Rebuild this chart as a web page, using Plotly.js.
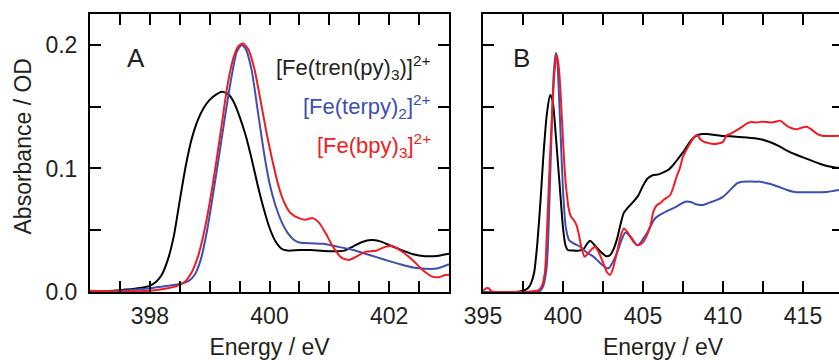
<!DOCTYPE html>
<html>
<head>
<meta charset="utf-8">
<script src="https://cdn.plot.ly/plotly-3.0.1.min.js"></script>
<style>html,body{margin:0;padding:0;overflow:hidden;background:#fff}</style>
</head>
<body>
<div id="chart" style="width:845px;height:360px"></div>
<script>
// ---------- Panel A (zoomed pre-edge) ----------
const aTrenE = [397.0,397.5,397.8,398.0,398.1,398.2,398.3,398.4,398.5,398.6,398.7,398.8,398.9,399.0,399.1,399.2,399.3,399.4,399.5,399.6,399.7,399.8,399.9,400.0,400.1,400.2,400.3,400.5,400.7,400.9,401.1,401.25,401.4,401.55,401.7,401.85,402.0,402.2,402.4,402.6,402.8,403.0];
const aTrenA = [0.0,0.0015,0.003,0.005,0.008,0.014,0.026,0.045,0.074,0.102,0.124,0.139,0.149,0.1555,0.1595,0.162,0.1605,0.154,0.142,0.127,0.108,0.087,0.068,0.052,0.041,0.035,0.0335,0.034,0.034,0.0332,0.033,0.0335,0.037,0.0405,0.042,0.041,0.038,0.034,0.0305,0.029,0.0292,0.031];

const aTerpyE = [397.0,397.5,398.0,398.3,398.5,398.65,398.75,398.85,398.95,399.05,399.15,399.25,399.35,399.45,399.53,399.6,399.7,399.8,399.9,400.0,400.1,400.2,400.3,400.4,400.5,400.7,400.9,401.1,401.4,401.6,401.8,402.0,402.2,402.4,402.6,402.8,403.0];
const aTerpyA = [0.0,0.001,0.003,0.005,0.0065,0.009,0.014,0.026,0.048,0.077,0.108,0.14,0.17,0.194,0.2,0.197,0.18,0.148,0.115,0.088,0.07,0.057,0.048,0.0425,0.040,0.0394,0.039,0.037,0.034,0.031,0.028,0.025,0.0222,0.0198,0.0188,0.019,0.0225];

const aBpyE = [397.0,397.5,398.0,398.3,398.5,398.6,398.7,398.8,398.9,399.0,399.1,399.2,399.3,399.4,399.48,399.56,399.65,399.75,399.85,399.95,400.05,400.15,400.25,400.35,400.5,400.6,400.72,400.83,400.94,401.06,401.2,401.33,401.45,401.6,401.78,401.94,402.06,402.22,402.39,402.56,402.72,402.83,402.94,403.0];
const aBpyA = [0.001,0.0005,0.001,0.003,0.0057,0.009,0.016,0.028,0.047,0.072,0.102,0.135,0.168,0.19,0.199,0.2012,0.196,0.18,0.155,0.129,0.106,0.086,0.072,0.064,0.0596,0.0585,0.0598,0.056,0.0475,0.0367,0.0278,0.0259,0.0286,0.0325,0.0334,0.0367,0.037,0.0326,0.0259,0.0178,0.0124,0.012,0.0138,0.014];

// ---------- Panel B (full spectrum) ----------
const bTrenE = [395.0,396.0,397.0,397.5,397.8,398.0,398.2,398.4,398.6,398.8,399.0,399.2,399.35,399.5,399.65,399.8,400.0,400.15,400.3,400.6,401.0,401.3,401.5,401.7,401.9,402.1,402.4,402.7,402.95,403.2,403.4,403.6,403.8,404.1,404.4,404.7,405.0,405.3,405.6,405.97,406.3,406.6,406.9,407.2,407.5,407.8,408.1,408.4,408.7,409.0,409.5,410.0,410.5,411.0,411.5,412.0,412.5,413.0,413.5,414.0,414.5,415.0,415.5,416.0,416.5,417.0,417.5];
const bTrenA = [0.0,0.0,0.0,0.001,0.003,0.007,0.016,0.04,0.075,0.115,0.145,0.1594,0.155,0.135,0.11,0.085,0.052,0.038,0.034,0.0335,0.0335,0.035,0.039,0.0415,0.039,0.036,0.032,0.029,0.030,0.036,0.044,0.055,0.064,0.069,0.0731,0.078,0.086,0.092,0.0945,0.0952,0.097,0.099,0.103,0.108,0.113,0.119,0.124,0.127,0.1278,0.1278,0.127,0.1262,0.126,0.1255,0.125,0.1245,0.1232,0.121,0.118,0.1145,0.1115,0.109,0.1065,0.104,0.102,0.1008,0.1002];

const bTerpyE = [395.0,396.0,397.5,398.0,398.54,398.75,398.96,399.05,399.13,399.27,399.42,399.55,399.62,399.69,399.84,400.0,400.17,400.38,400.6,400.8,401.07,401.3,401.6,401.9,402.2,402.5,402.75,402.9,403.1,403.36,403.6,403.88,404.0,404.3,404.6,404.75,405.0,405.24,405.5,405.75,406.0,406.5,407.0,407.4,407.64,408.0,408.3,408.7,409.0,409.3,409.62,410.0,410.25,410.6,410.87,411.2,411.5,412.0,412.33,412.75,413.16,413.6,414.0,414.4,414.83,415.25,415.66,416.1,416.5,416.9,417.27,417.5];
const bTerpyA = [0.0,0.0,0.0,0.0,0.0005,0.0043,0.0178,0.035,0.0637,0.123,0.177,0.1935,0.19,0.177,0.131,0.0826,0.0529,0.042,0.0398,0.0385,0.0367,0.034,0.031,0.0286,0.025,0.0215,0.0192,0.0197,0.024,0.031,0.040,0.048,0.0475,0.0435,0.038,0.0385,0.043,0.0475,0.054,0.0595,0.062,0.0655,0.0685,0.0715,0.0731,0.0728,0.071,0.0704,0.0715,0.073,0.0745,0.077,0.080,0.0845,0.088,0.0893,0.0895,0.0893,0.0893,0.088,0.0866,0.0845,0.0826,0.0812,0.0807,0.0808,0.0807,0.0808,0.081,0.0818,0.0826,0.0828];

const bBpyE = [395.0,395.2,395.35,395.5,395.8,396.5,397.5,398.0,398.4,398.65,398.86,399.0,399.17,399.32,399.48,399.6,399.7,399.8,399.9,400.0,400.1,400.21,400.35,400.5,400.67,400.85,401.0,401.15,401.35,401.55,401.75,402.0,402.2,402.5,402.75,402.94,403.1,403.36,403.6,403.8,404.0,404.2,404.45,404.65,404.85,405.03,405.25,405.45,405.65,405.87,406.07,406.28,406.5,406.7,406.9,407.1,407.3,407.5,407.75,407.95,408.2,408.37,408.6,408.78,409.1,409.4,409.7,410.0,410.25,410.45,410.87,411.28,411.5,411.8,412.1,412.4,412.75,413.0,413.3,413.58,413.8,414.0,414.3,414.62,414.9,415.25,415.5,415.88,416.2,416.5,416.9,417.27,417.5];
const bBpyA = [0.001,0.003,0.003,0.001,0.0,0.0,0.0,0.0005,0.001,0.004,0.015,0.05,0.104,0.1446,0.180,0.192,0.186,0.1716,0.148,0.123,0.10,0.0826,0.068,0.061,0.0583,0.054,0.046,0.036,0.0286,0.031,0.034,0.0367,0.033,0.024,0.016,0.0138,0.018,0.0313,0.045,0.0515,0.049,0.0448,0.04,0.0378,0.0385,0.0407,0.046,0.0529,0.065,0.0704,0.0718,0.0745,0.0765,0.0785,0.085,0.0933,0.1,0.1095,0.116,0.1204,0.1255,0.127,0.1235,0.1217,0.1205,0.1198,0.1202,0.1215,0.127,0.128,0.131,0.1345,0.1365,0.1375,0.1372,0.1378,0.1376,0.1372,0.1378,0.1387,0.1365,0.1345,0.1325,0.1317,0.133,0.1338,0.1318,0.128,0.1265,0.1263,0.1262,0.1265,0.1268];

// ---------- Ticks and labels ----------
const aTickVals = [397,397.5,398,398.5,399,399.5,400,400.5,401,401.5,402,402.5,403];
const aTickText = ['','','398','','','','400','','','','402','',''];
const bTickVals = [395,397.5,400,402.5,405,407.5,410,412.5,415,417.5];
const bTickText = ['395','','400','','405','','410','','415',''];
const yTickVals = [0,0.05,0.1,0.15,0.2];
const yTickText = ['0.0','','0.1','','0.2'];
const xTitle = 'Energy / eV';
const yTitle = 'Absorbance / OD';
const seriesNames = ['[Fe(tren(py)<sub>3</sub>)]<sup>2+</sup>','[Fe(terpy)<sub>2</sub>]<sup>2+</sup>','[Fe(bpy)<sub>3</sub>]<sup>2+</sup>'];

const BLACK = '#000000', BLUE = '#3d4fb0', RED = '#f01c24';
const TXT = '#231f20';
const FONT = 'Liberation Sans, Arial, sans-serif';
const FS = 23;

function tr(x, y, color, xa, ya) {
  return {x: x, y: y, type: 'scatter', mode: 'lines', xaxis: xa, yaxis: ya,
          line: {color: color, width: 2, shape: 'spline', smoothing: 0.6},
          hoverinfo: 'skip', showlegend: false};
}

const data = [
  tr(aTrenE, aTrenA, BLACK, 'x', 'y'),
  tr(aTerpyE, aTerpyA, BLUE, 'x', 'y'),
  tr(aBpyE, aBpyA, RED, 'x', 'y'),
  tr(bTrenE, bTrenA, BLACK, 'x2', 'y2'),
  tr(bTerpyE, bTerpyA, BLUE, 'x2', 'y2'),
  tr(bBpyE, bBpyA, RED, 'x2', 'y2')
];

const W = 845;
const axCommon = {
  ticks: 'inside', ticklen: 11, tickwidth: 2, tickcolor: '#000',
  showline: true, linewidth: 2, linecolor: '#000', mirror: 'ticks',
  showgrid: false, zeroline: false, fixedrange: true,
  tickfont: {family: FONT, size: FS, color: TXT},
  tickmode: 'array'
};

const layout = {
  width: W, height: 360,
  margin: {l: 0, r: 0, t: 14, b: 68},
  paper_bgcolor: '#fff', plot_bgcolor: '#fff',
  showlegend: false,
  xaxis: Object.assign({}, axCommon, {
    domain: [90 / W, 449 / W], anchor: 'y', range: [397, 403],
    tickvals: aTickVals, ticktext: aTickText, ticklabelstandoff: 2,
    title: {text: xTitle, font: {family: FONT, size: FS, color: TXT}, standoff: 13}
  }),
  yaxis: Object.assign({}, axCommon, {
    domain: [0, 1], anchor: 'x', range: [0, 0.225],
    tickvals: yTickVals, ticktext: yTickText, ticklabelstandoff: 6
  }),
  xaxis2: Object.assign({}, axCommon, {
    domain: [483 / W, 843 / W], anchor: 'y2', range: [395, 417.5],
    tickvals: bTickVals, ticktext: bTickText, ticklabelstandoff: 2,
    title: {text: xTitle, font: {family: FONT, size: FS, color: TXT}, standoff: 13}
  }),
  yaxis2: Object.assign({}, axCommon, {
    domain: [0, 1], anchor: 'x2', range: [0, 0.225],
    tickvals: yTickVals, showticklabels: false
  }),
  annotations: [
    {text: yTitle, xref: 'paper', yref: 'paper', x: 22 / W, y: (292 - 146.5) / 278, xanchor: 'center', yanchor: 'middle',
     textangle: -90, showarrow: false, font: {family: FONT, size: FS, color: TXT}},
    {text: 'A', xref: 'x domain', yref: 'y domain', x: 0.128, y: 0.84, xanchor: 'center', yanchor: 'middle',
     showarrow: false, font: {family: FONT, size: 26, color: TXT}},
    {text: 'B', xref: 'x2 domain', yref: 'y2 domain', x: 0.107, y: 0.843, xanchor: 'center', yanchor: 'middle',
     showarrow: false, font: {family: FONT, size: 26, color: TXT}},
    {text: seriesNames[0], xref: 'x domain', yref: 'y domain', x: 0.955, y: (292 - 67) / 278, xanchor: 'right', yanchor: 'middle',
     showarrow: false, font: {family: FONT, size: 22, color: TXT}},
    {text: seriesNames[1], xref: 'x domain', yref: 'y domain', x: 0.955, y: (292 - 106) / 278, xanchor: 'right', yanchor: 'middle',
     showarrow: false, font: {family: FONT, size: 22, color: BLUE}},
    {text: seriesNames[2], xref: 'x domain', yref: 'y domain', x: 0.955, y: (292 - 145) / 278, xanchor: 'right', yanchor: 'middle',
     showarrow: false, font: {family: FONT, size: 22, color: RED}}
  ]
};

Plotly.newPlot('chart', data, layout, {staticPlot: true, displayModeBar: false});
</script>
</body>
</html>
